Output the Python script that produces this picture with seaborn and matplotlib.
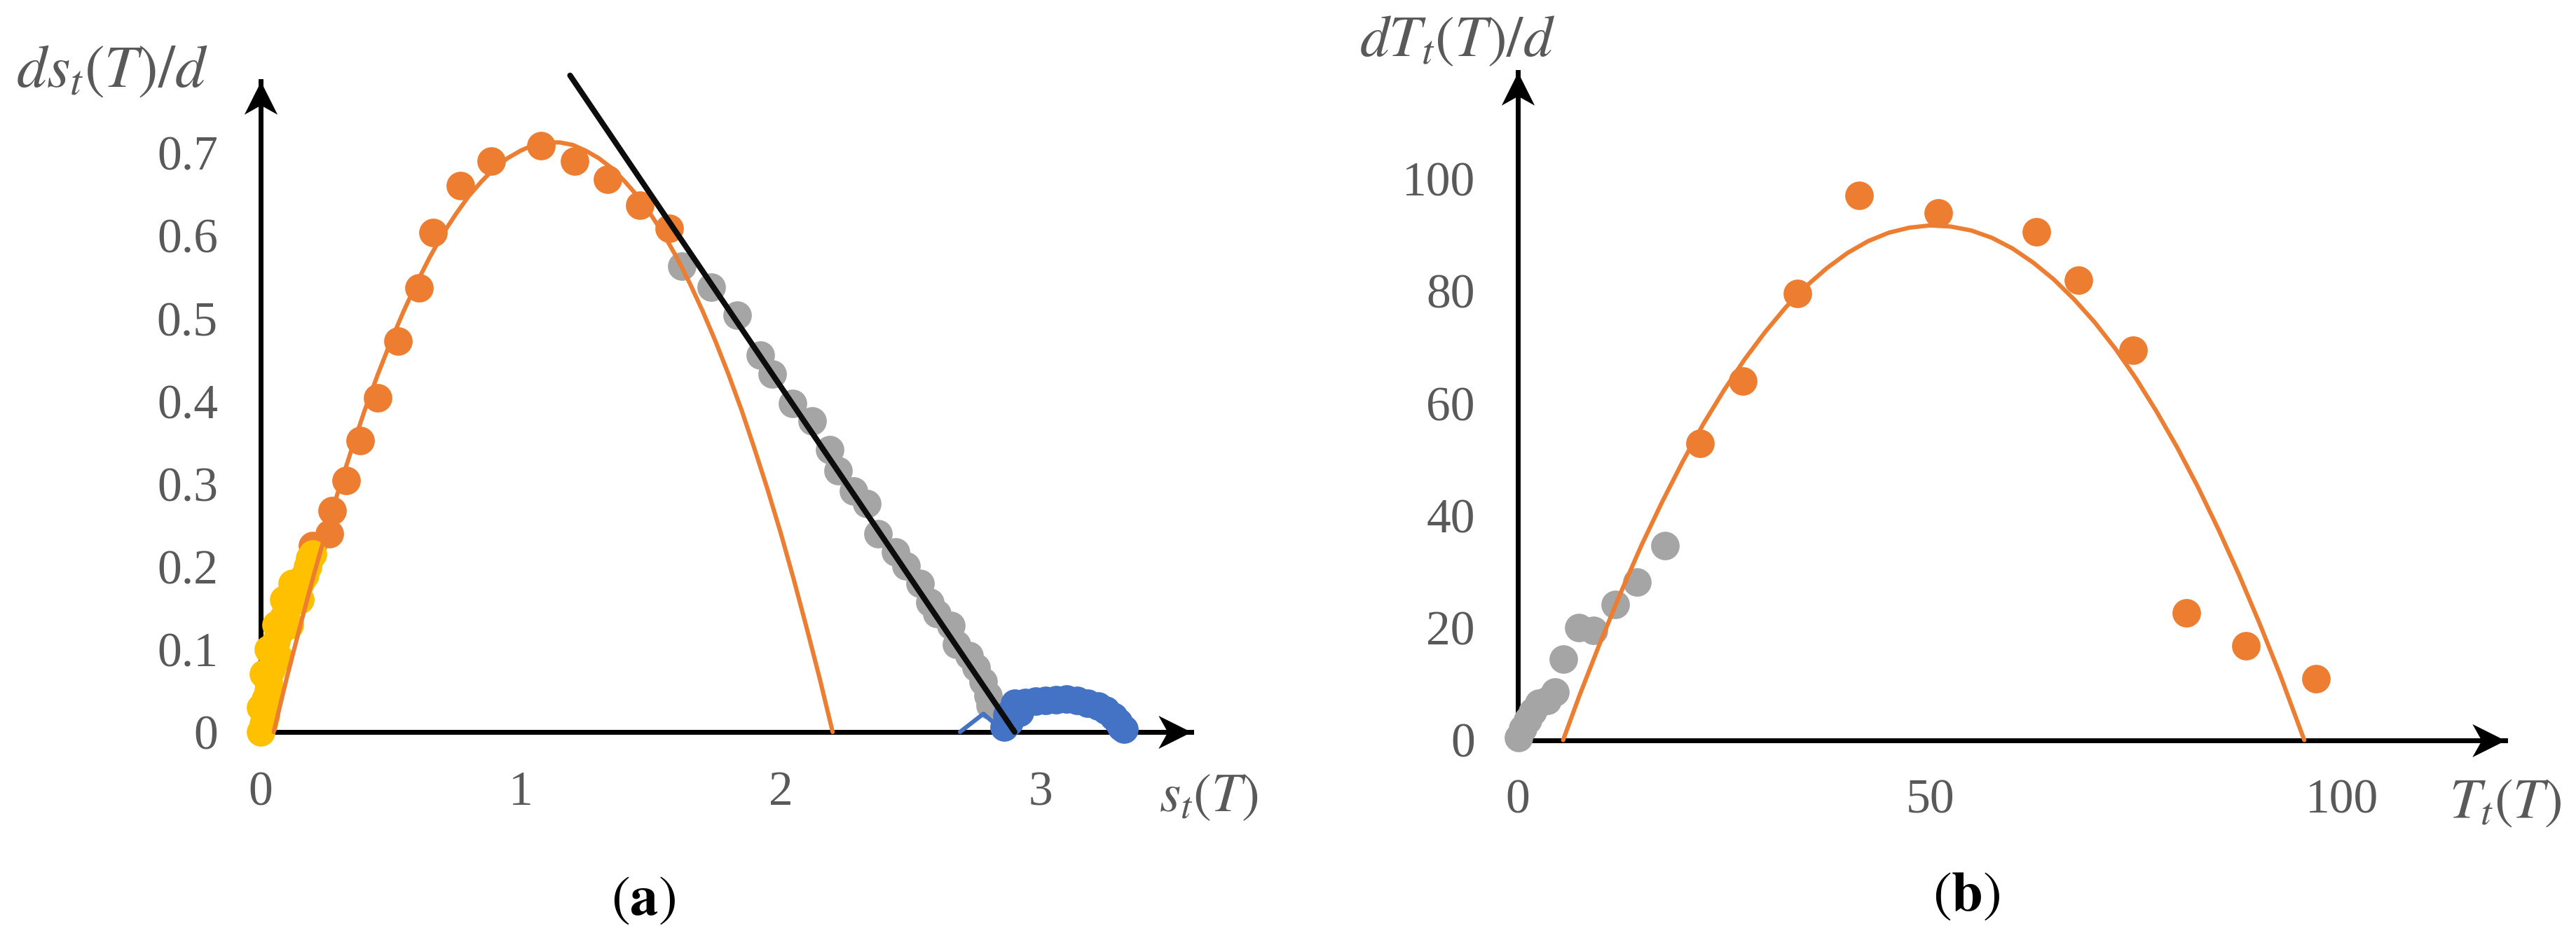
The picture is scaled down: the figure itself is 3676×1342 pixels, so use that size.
import pandas as pd
import matplotlib
matplotlib.use("Agg")
import matplotlib.pyplot as plt
from matplotlib.path import Path
import seaborn as sns

#============================================================================
#                     DATA
#============================================================================
# Panel (a): ds_t(T)/d against s_t(T)
yellow_s = [0.00, 0.01, 0.02, 0.02, 0.03, 0.03, 0.04, 0.05, 0.05, 0.06, 0.07, 0.08,
            0.09, 0.10, 0.11, 0.12, 0.13, 0.14, 0.15, 0.16, 0.17, 0.18, 0.19, 0.20,
            0.00, 0.01, 0.03, 0.06, 0.09, 0.12, 0.07, 0.11, 0.15]
yellow_ds = [0.00, 0.01, 0.02, 0.04, 0.05, 0.06, 0.075, 0.085, 0.10, 0.11, 0.12, 0.13,
             0.14, 0.15, 0.155, 0.16, 0.165, 0.17, 0.18, 0.185, 0.19, 0.20, 0.21, 0.215,
             0.03, 0.07, 0.10, 0.13, 0.16, 0.18, 0.09, 0.13, 0.16]

orange_s = [0.20, 0.265, 0.275, 0.33, 0.383, 0.45, 0.527, 0.609, 0.663, 0.769, 0.888,
            1.078, 1.207, 1.334, 1.457, 1.571]
orange_ds = [0.225, 0.24, 0.268, 0.304, 0.352, 0.404, 0.473, 0.537, 0.604, 0.661, 0.690,
             0.709, 0.690, 0.668, 0.637, 0.609]

grey_s = [1.620, 1.733, 1.833, 1.922, 1.968, 2.046, 2.121, 2.189, 2.221, 2.280, 2.331,
          2.375, 2.442, 2.483, 2.537, 2.574, 2.601, 2.655, 2.677, 2.725, 2.752, 2.779,
          2.798, 2.806]
grey_ds = [0.563, 0.538, 0.504, 0.456, 0.433, 0.397, 0.376, 0.341, 0.316, 0.291, 0.276,
           0.240, 0.218, 0.201, 0.180, 0.157, 0.143, 0.129, 0.106, 0.092, 0.078, 0.061,
           0.044, 0.032]

blue_s = [2.86, 2.87, 2.88, 2.90, 2.92, 2.94, 2.98, 3.02, 3.06, 3.10, 3.14, 3.18, 3.22,
          3.25, 3.28, 3.30, 3.31, 3.32]
blue_ds = [0.006, 0.020, 0.012, 0.035, 0.024, 0.036, 0.037, 0.038, 0.039, 0.040, 0.038,
           0.035, 0.031, 0.026, 0.019, 0.012, 0.006, 0.003]
blue_tail_s = [2.69, 2.78, 2.86]
blue_tail_ds = [0.000, 0.022, 0.000]

fit_a_s = [0.05, 0.1, 0.15, 0.2, 0.25, 0.3, 0.35, 0.4, 0.45, 0.5, 0.55, 0.6, 0.65, 0.7,
           0.75, 0.8, 0.85, 0.9, 0.95, 1.0, 1.05, 1.1, 1.15, 1.2, 1.25, 1.3, 1.35, 1.4,
           1.45, 1.5, 1.55, 1.6, 1.65, 1.7, 1.75, 1.8, 1.85, 1.9, 1.95, 2.0, 2.05, 2.1,
           2.15, 2.2]
fit_a_ds = [0.0, 0.065, 0.126, 0.185, 0.241, 0.293, 0.342, 0.389, 0.432, 0.472, 0.509,
            0.543, 0.574, 0.602, 0.626, 0.648, 0.666, 0.682, 0.694, 0.703, 0.710, 0.713,
            0.713, 0.710, 0.703, 0.694, 0.682, 0.666, 0.648, 0.626, 0.602, 0.574, 0.543,
            0.509, 0.472, 0.432, 0.389, 0.342, 0.293, 0.241, 0.185, 0.126, 0.065, 0.0]

line_a_s = [1.19, 2.90]
line_a_ds = [0.794, 0.0]

xticks_a = [0, 1, 2, 3]
yticks_a = [0, 0.1, 0.2, 0.3, 0.4, 0.5, 0.6, 0.7]
yticklabels_a = ["0", "0.1", "0.2", "0.3", "0.4", "0.5", "0.6", "0.7"]

# Panel (b): dT_t(T)/d against T_t(T)
grey_T = [0.1, 0.6, 1.2, 1.8, 2.6, 3.6, 4.5, 5.5, 7.4, 9.2, 11.8, 14.5, 17.9]
grey_dT = [0.4, 2.1, 3.6, 5.0, 6.6, 7.0, 8.5, 14.4, 20.1, 19.5, 24.1, 28.2, 34.6]

orange_T = [22.1, 27.3, 33.9, 41.4, 51.0, 62.9, 68.0, 74.6, 81.1, 88.3, 96.8]
orange_dT = [52.9, 64.0, 79.6, 97.0, 93.9, 90.6, 81.9, 69.5, 22.7, 16.8, 10.9]

fit_b_T = [5.5, 7.5, 10, 12.5, 15, 17.5, 20, 22.5, 25, 27.5, 30, 32.5, 35, 37.5, 40,
           42.5, 45, 47.5, 50, 52.5, 55, 57.5, 60, 62.5, 65, 67.5, 70, 72.5, 75, 77.5,
           80, 82.5, 85, 87.5, 90, 92.5, 95.4]
fit_b_dT = [0.0, 8.0, 17.4, 26.3, 34.7, 42.4, 49.6, 56.3, 62.3, 67.8, 72.7, 77.1, 80.9,
            84.1, 86.8, 88.9, 90.4, 91.3, 91.7, 91.5, 90.8, 89.5, 87.6, 85.1, 82.1,
            78.5, 74.4, 69.7, 64.4, 58.5, 52.1, 45.1, 37.5, 29.4, 20.7, 11.5, 0.0]

xticks_b = [0, 50, 100]
yticks_b = [0, 20, 40, 60, 80, 100]

#============================================================================
#                              STYLE
#============================================================================
sns.set_style("white")
plt.rcParams["font.family"] = ["Liberation Serif", "DejaVu Serif"]
plt.rcParams["mathtext.fontset"] = "stix"

ORANGE = "#ED7D31"
GREY = "#A5A5A5"
YELLOW = "#FFC000"
BLUE = "#4472C4"
TEXT = "#595959"
DOT = 215

# stealth-like arrow heads for the axis ends (tip sits on the point)
arrow_right = Path([(0, 0), (-1, 0.5), (-0.72, 0), (-1, -0.5), (0, 0)],
                   [Path.MOVETO, Path.LINETO, Path.LINETO, Path.LINETO, Path.CLOSEPOLY])
arrow_up = Path([(0, 0), (-0.5, -1), (0, -0.72), (0.5, -1), (0, 0)],
                [Path.MOVETO, Path.LINETO, Path.LINETO, Path.LINETO, Path.CLOSEPOLY])


def setup_axes(ax, xmax, ymax, xticks, yticks, yticklabels):
    ax.set_xlim(0, xmax)
    ax.set_ylim(0, ymax)
    ax.spines["top"].set_visible(False)
    ax.spines["right"].set_visible(False)
    for side in ["left", "bottom"]:
        ax.spines[side].set_linewidth(2.5)
        ax.spines[side].set_color("black")
    ax.set_xticks(xticks)
    ax.set_xticklabels([str(t) for t in xticks])
    ax.set_yticks(yticks)
    ax.set_yticklabels(yticklabels)
    ax.tick_params(direction="inout", length=16, width=2.5, color="black",
                   labelcolor=TEXT, labelsize=25)
    ax.tick_params(axis="y", pad=14)
    ax.tick_params(axis="x", pad=12)
    ax.set_xlabel("")
    ax.set_ylabel("")
    ax.plot(1, 0, marker=arrow_right, ms=34, mew=0, color="black",
            transform=ax.transAxes, clip_on=False)
    ax.plot(0, 1, marker=arrow_up, ms=34, mew=0, color="black",
            transform=ax.transAxes, clip_on=False)


def dots(x, y, color, ax):
    # points sit on top of the axis lines, like in the original
    sns.scatterplot(x=x, y=y, color=color, s=DOT, linewidth=0, ax=ax,
                    clip_on=False, zorder=3)


def curve(x, y, color, width, ax):
    sns.lineplot(x=x, y=y, color=color, linewidth=width, estimator=None,
                 sort=False, ax=ax, clip_on=False, zorder=4)


fig = plt.figure(figsize=(18.38, 6.71), dpi=200)

#============================================================================
#                              PANEL (a)
#============================================================================
ax_a = fig.add_axes([0.1012, 0.2213, 0.3613, 0.6923])

dots(grey_s, grey_ds, GREY, ax_a)
dots(orange_s, orange_ds, ORANGE, ax_a)
curve(blue_tail_s, blue_tail_ds, BLUE, 2.2, ax_a)
dots(blue_s, blue_ds, BLUE, ax_a)
dots(yellow_s, yellow_ds, YELLOW, ax_a)
curve(fit_a_s, fit_a_ds, ORANGE, 2.2, ax_a)
curve(line_a_s, line_a_ds, "#0d0d0d", 2.9, ax_a)

setup_axes(ax_a, 3.58, 0.787, xticks_a, yticks_a, yticklabels_a)

ax_a.text(-0.160, 1.014, r"$ds_t(T)/d$", transform=ax_a.transAxes, ha="center",
          va="center", fontsize=31, color=TEXT)
ax_a.text(1.019, -0.102, r"$s_t(T)$", transform=ax_a.transAxes, ha="center",
          va="center", fontsize=28, color=TEXT)

#============================================================================
#                              PANEL (b)
#============================================================================
ax_b = fig.add_axes([0.5892, 0.2127, 0.3834, 0.7105])

dots(grey_T, grey_dT, GREY, ax_b)
dots(orange_T, orange_dT, ORANGE, ax_b)
curve(fit_b_T, fit_b_dT, ORANGE, 2.2, ax_b)

setup_axes(ax_b, 119.8, 119, xticks_b, yticks_b, [str(t) for t in yticks_b])

ax_b.text(-0.061, 1.045, r"$dT_t(T)/d$", transform=ax_b.transAxes, ha="center",
          va="center", fontsize=30, color=TEXT)
ax_b.text(1.0, -0.095, r"$T_t(T)$", transform=ax_b.transAxes, ha="center",
          va="center", fontsize=29, color=TEXT)

# sub-figure captions
fig.text(918 / 3676, 1 - 1286 / 1342, r"$(\mathbf{a})$", ha="center", va="center",
         fontsize=29, color="black")
fig.text(2806 / 3676, 1 - 1280 / 1342, r"$(\mathbf{b})$", ha="center", va="center",
         fontsize=29, color="black")

fig.savefig("out.png", dpi=200, facecolor="white")
